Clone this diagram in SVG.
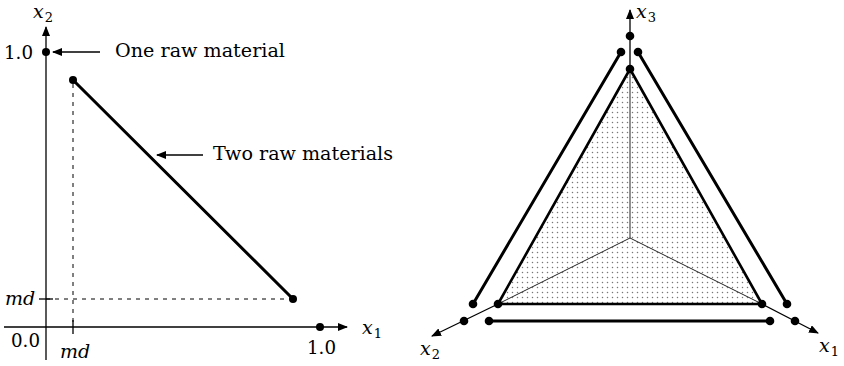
<svg xmlns="http://www.w3.org/2000/svg" width="844" height="366" viewBox="0 0 844 366">
<style>
.t{font-family:"DejaVu Serif","Liberation Serif",serif;font-size:19px;fill:#000}
.i{font-style:italic}
.s{font-size:13px}
.ax{stroke:#000;stroke-width:1.3;fill:none}
.thick{stroke:#000;stroke-width:3;fill:none;stroke-linecap:round}
.dash{stroke:#000;stroke-width:1;stroke-dasharray:4,5;fill:none}
.thin{stroke:#222;stroke-width:1;fill:none}
</style>
<defs>
<marker id="ar" viewBox="0 0 10 8" refX="9" refY="4" markerWidth="10" markerHeight="8" markerUnits="userSpaceOnUse" orient="auto">
<path d="M0,0 L10,4 L0,8 Z" fill="#000"/>
</marker>
<pattern id="dots" width="5" height="5" patternUnits="userSpaceOnUse">
<rect width="5" height="5" fill="#fff"/>
<circle cx="2.5" cy="2.5" r="0.75" fill="#777"/>
</pattern>
</defs>

<g id="left-axes">
<line class="ax" x1="46" y1="360" x2="46" y2="27" marker-end="url(#ar)"/>
<line class="ax" x1="4" y1="327" x2="347" y2="327" marker-end="url(#ar)"/>
<line class="ax" x1="73" y1="320" x2="73" y2="334"/>
<line class="ax" x1="39" y1="299" x2="53" y2="299"/>
<text class="t i" x="33" y="18">x<tspan class="s" font-style="normal" dx="1" dy="4">2</tspan></text>
<text class="t i" x="362" y="334">x<tspan class="s" font-style="normal" dx="1" dy="4">1</tspan></text>
<text class="t" x="4" y="59" textLength="29" lengthAdjust="spacingAndGlyphs">1.0</text>
<text class="t" x="11" y="347" textLength="29" lengthAdjust="spacingAndGlyphs">0.0</text>
<text class="t" x="307" y="354" textLength="29" lengthAdjust="spacingAndGlyphs">1.0</text>
<text class="t i" x="5" y="305">md</text>
<text class="t i" x="60" y="358">md</text>
</g>

<g id="left-one-raw">
<circle cx="46" cy="52" r="4" fill="#000"/>
<circle cx="320" cy="327" r="4" fill="#000"/>
<line class="ax" x1="100" y1="52" x2="53" y2="52" marker-end="url(#ar)"/>
<text class="t" x="115" y="57" textLength="170" lengthAdjust="spacingAndGlyphs">One raw material</text>
</g>

<g id="left-two-raw">
<line class="dash" x1="73" y1="84" x2="73" y2="327"/>
<line class="dash" x1="46" y1="299" x2="290" y2="299"/>
<line class="thick" x1="73" y1="80" x2="293" y2="299"/>
<circle cx="73" cy="80" r="4" fill="#000"/>
<circle cx="293" cy="299" r="4" fill="#000"/>
<line class="ax" x1="203" y1="155" x2="157" y2="155" marker-end="url(#ar)"/>
<text class="t" x="213" y="160" textLength="180" lengthAdjust="spacingAndGlyphs">Two raw materials</text>
</g>

<g id="simplex">
<polygon points="630,69 498,304 762,304" fill="url(#dots)"/>
<line class="thin" x1="630" y1="238" x2="630" y2="69" stroke="#444"/>
<line class="thin" x1="630" y1="238" x2="498" y2="304"/>
<line class="thin" x1="630" y1="238" x2="762" y2="304"/>
<polygon points="630,69 498,304 762,304" fill="none" stroke="#000" stroke-width="2.6" stroke-linejoin="round"/>
</g>

<g id="right-axes">
<line class="ax" x1="630" y1="69" x2="630" y2="10" stroke="#444" marker-end="url(#ar)"/>
<line class="ax" x1="498" y1="304" x2="432" y2="336" marker-end="url(#ar)"/>
<line class="ax" x1="762" y1="304" x2="818" y2="333" marker-end="url(#ar)"/>
<text class="t i" x="636" y="18">x<tspan class="s" font-style="normal" dx="1" dy="4">3</tspan></text>
<text class="t i" x="420" y="355">x<tspan class="s" font-style="normal" dx="1" dy="4">2</tspan></text>
<text class="t i" x="819" y="352">x<tspan class="s" font-style="normal" dx="1" dy="4">1</tspan></text>
</g>

<g id="edges">
<line class="thick" x1="621" y1="52" x2="473" y2="304" stroke-width="2.6"/>
<line class="thick" x1="638" y1="52" x2="787" y2="304" stroke-width="2.6"/>
<line class="thick" x1="489" y1="321" x2="770" y2="321" stroke-width="2.6"/>
</g>

<g id="right-dots" fill="#000">
<circle cx="630" cy="36" r="4.3"/>
<circle cx="621" cy="52" r="4.3"/>
<circle cx="638" cy="52" r="4.3"/>
<circle cx="630" cy="69" r="4.3"/>
<circle cx="473" cy="304" r="4.3"/>
<circle cx="498" cy="304" r="4.3"/>
<circle cx="762" cy="304" r="4.3"/>
<circle cx="787" cy="304" r="4.3"/>
<circle cx="464" cy="321" r="4.3"/>
<circle cx="489" cy="321" r="4.3"/>
<circle cx="770" cy="321" r="4.3"/>
<circle cx="795" cy="321" r="4.3"/>
</g>
</svg>
